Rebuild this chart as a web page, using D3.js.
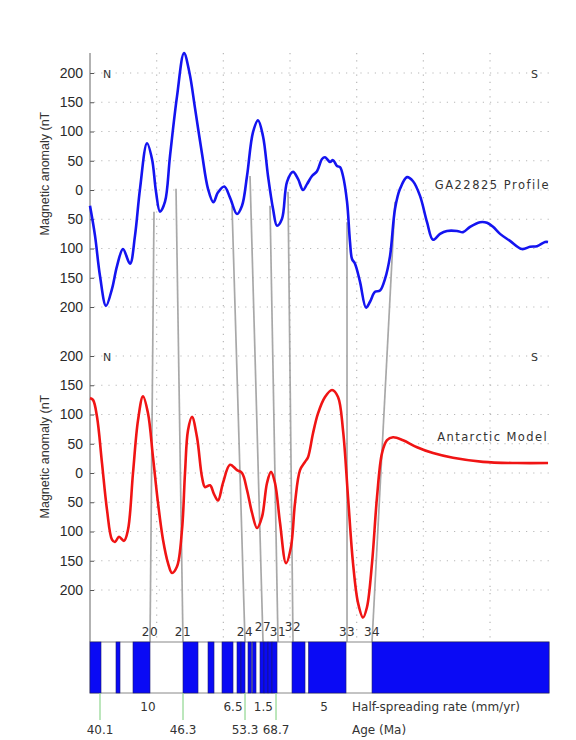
<!DOCTYPE html>
<html>
<head>
<meta charset="utf-8">
<script src="https://cdn.jsdelivr.net/npm/d3@7"></script>
<style>
body { margin: 0; background: #fff; }
svg { display: block; }
</style>
</head>
<body>
<svg id="chart" width="576" height="740"></svg>
<script>
// distance along track (km) and anomaly (nT)
var profileKm = [0, 7.5, 15, 24, 33, 40.5, 49.5, 60, 67.5, 75, 85.5, 93, 99, 105, 112.5, 120, 130.5, 141, 149.25, 157.5,
  168, 177, 185, 192, 201.5, 210, 220.5, 228, 235.5, 244.5, 252, 259.5, 267, 274.5, 280.5, 288, 295.5, 304.5, 312, 319.5,
  325.5, 333, 340.5, 348, 352.5, 360, 364.5, 370.5, 375, 379.5, 385.5, 390, 393, 397.5, 405, 414, 420, 427.5, 435, 442.5,
  450, 457.5, 465, 475.5, 484.5, 495, 505.5, 514.5, 525, 535.5, 550.5, 559.5, 570, 585, 595.5, 604.5, 615, 630, 648, 660,
  670.5, 682.5, 687];
var profileNT = [-27, -78, -147, -198, -169, -130, -101, -126, -78, 2, 80, 53, -3, -37, -20, 58, 160, 234, 200, 140,
  62, 2, -21, -4, 6, -13, -41, -27, 24, 99, 119, 92, 24, -32, -61, -49, 14, 31, 19, 0,
  10, 24, 32, 53, 56, 48, 51, 41, 39, 24, -20, -89, -118, -126, -157, -201, -191, -174, -172, -152,
  -113, -32, 2, 22, 15, -10, -55, -85, -75, -70, -70, -72, -63, -55, -56, -63, -75, -87, -101, -97,
  -96, -89, -89];

var modelKm = [0, 4.5, 10.5, 18, 25.5, 33, 37.5, 43.5, 51, 57, 64.5, 72, 79.5, 87, 94.5, 102, 109.5, 117, 123, 130.5,
  138, 142.5, 147, 153, 160.5, 168, 172.5, 180, 186, 192, 199.5, 210, 220.5, 228, 235.5, 243, 250.5, 258, 265.5, 271.5,
  277.5, 285, 294, 301.5, 307.5, 315, 322.5, 327, 334.5, 342, 352.5, 363, 372, 379.5, 387, 394.5, 402, 409.5, 415.5, 423,
  430.5, 438, 445.5, 454.5, 469.5, 490.5, 514.5, 544.5, 589.5, 640.5, 687];
var modelNT = [128, 125, 96, 17, -63, -114, -118, -109, -116, -97, 0, 90, 131, 102, 27, -51, -114, -154, -171, -160,
  -97, 0, 73, 96, 61, -7, -24, -21, -36, -47, -17, 14, 5, 0, -29, -68, -94, -75, -17, 2,
  -17, -85, -154, -126, -51, 5, 19, 27, 68, 102, 130, 142, 130, 73, -41, -154, -222, -247, -229, -154,
  -41, 34, 56, 61, 56, 44, 34, 26, 19, 17, 17];

// normal polarity blocks (km)
var blockStart = [0, 39, 64.5, 139.5, 177, 198, 220.5, 226.5, 237, 243.75, 255, 261, 267, 273, 303, 327.75, 423];
var blockEnd   = [16.5, 45, 90, 162, 186, 214.5, 226.5, 232.5, 242.25, 249, 261, 267, 273, 280.5, 322.5, 384, 688.5];

// magnetic anomaly picks: start on profile, end on block model
var anomalyLabels = ["20", "21", "24", "27", "31", "32", "33", "34"];
var pickKm  = [96, 129, 213, 240, 270, 297, 385.5, 457.5];
var pickNT  = [-37, 2, -27, 24, -27, -3, -55, -20];
var chronKm = [90, 139.5, 232.5, 259.5, 282, 304.5, 385.5, 423];

var rateLabels = ["10", "6.5", "1.5", "5"];
var rateKm = [87, 214.5, 260, 351];
var ageLabels = ["40.1", "46.3", "53.3", "68.7"];
var ageKm = [15, 139.5, 232.5, 279];

var kmTicks = [100, 200, 300, 400, 500, 600];
var nTTicks = [-200, -150, -100, -50, 0, 50, 100, 150, 200];

var svg = d3.select("#chart");
var x = d3.scaleLinear().domain([0, 700]).range([90, 556.7]);
var yTop = d3.scaleLinear().domain([-200, 200]).range([307, 73]);
var yBot = d3.scaleLinear().domain([-200, 200]).range([590, 356]);
var barTop = 642, barBot = 693, plotRight = 550, plotTop = 53;

// dotted grid
var grid = svg.append("g").attr("stroke", "#b8b8b8").attr("stroke-width", 1.2)
  .attr("stroke-dasharray", "1.2,6");
[yTop, yBot].forEach(function(y) {
  grid.selectAll(null).data(nTTicks).enter().append("line")
    .attr("x1", x(0) + 4).attr("x2", plotRight)
    .attr("y1", function(d) { return y(d); }).attr("y2", function(d) { return y(d); });
});
grid.selectAll(null).data(kmTicks).enter().append("line")
  .attr("x1", function(d) { return x(d); }).attr("x2", function(d) { return x(d); })
  .attr("y1", plotTop).attr("y2", barTop);

// correlation lines
svg.append("g").selectAll("line").data(anomalyLabels).enter().append("line")
  .attr("x1", function(d, i) { return x(pickKm[i]); })
  .attr("y1", function(d, i) { return yTop(pickNT[i]); })
  .attr("x2", function(d, i) { return x(chronKm[i]); })
  .attr("y2", barTop)
  .attr("stroke", "#9a9a9a").attr("stroke-width", 1.7).attr("opacity", 0.85);

// axes
[yTop, yBot].forEach(function(y) {
  var ax = svg.append("g").attr("transform", "translate(" + x(0) + ",0)")
    .call(d3.axisLeft(y).tickValues(nTTicks).tickFormat(function(d) { return Math.abs(d); })
      .tickSizeInner(-4).tickSizeOuter(0).tickPadding(7));
  ax.select(".domain").remove();
  ax.selectAll(".tick line").attr("stroke", "#555");
  ax.selectAll("text").attr("font-family", "Liberation Sans, Arial, sans-serif")
    .attr("font-size", 14).attr("fill", "#2a2a2a");
  svg.append("text")
    .attr("transform", "translate(49," + y(28) + ") rotate(-90)")
    .attr("text-anchor", "middle")
    .attr("font-family", "Liberation Sans, Arial, sans-serif").attr("font-size", 12.5).attr("fill", "#333")
    .text("Magnetic anomaly (nT");
  svg.append("text").attr("x", 103).attr("y", y(200) + 4.5)
    .attr("font-family", "DejaVu Sans, sans-serif").attr("font-size", 11).attr("fill", "#333").text("N");
  svg.append("text").attr("x", 531).attr("y", y(200) + 4.5)
    .attr("font-family", "DejaVu Sans, sans-serif").attr("font-size", 11).attr("fill", "#333").text("S");
});
svg.append("line").attr("x1", x(0)).attr("x2", x(0)).attr("y1", plotTop).attr("y2", barTop)
  .attr("stroke", "#666").attr("stroke-width", 1);

// curves
var lineTop = d3.line().x(function(d, i) { return x(profileKm[i]); }).y(function(d) { return yTop(d); })
  .curve(d3.curveCatmullRom.alpha(0.5));
var lineBot = d3.line().x(function(d, i) { return x(modelKm[i]); }).y(function(d) { return yBot(d); })
  .curve(d3.curveCatmullRom.alpha(0.5));
svg.append("path").attr("d", lineTop(profileNT)).attr("fill", "none")
  .attr("stroke", "#1414f0").attr("stroke-width", 2.6).attr("stroke-linejoin", "round");
svg.append("path").attr("d", lineBot(modelNT)).attr("fill", "none")
  .attr("stroke", "#f01414").attr("stroke-width", 2.6).attr("stroke-linejoin", "round");

var labelFont = "DejaVu Sans, Verdana, sans-serif";
svg.append("text").attr("x", plotRight).attr("y", yTop(0) - 1).attr("text-anchor", "end")
  .attr("font-family", labelFont).attr("font-size", 11.5).attr("letter-spacing", 1.5)
  .attr("fill", "#333").text("GA22825  Profile");
svg.append("text").attr("x", plotRight - 2).attr("y", yBot(55)).attr("text-anchor", "end")
  .attr("font-family", labelFont).attr("font-size", 11.5).attr("letter-spacing", 1.4)
  .attr("fill", "#333").text("Antarctic  Model");

// block model
svg.append("rect").attr("x", x(0)).attr("y", barTop).attr("width", x(688.5) - x(0)).attr("height", barBot - barTop)
  .attr("fill", "#fff").attr("stroke", "#888");
svg.append("g").selectAll("rect").data(blockStart).enter().append("rect")
  .attr("x", function(d) { return x(d); })
  .attr("width", function(d, i) { return x(blockEnd[i]) - x(d); })
  .attr("y", barTop).attr("height", barBot - barTop)
  .attr("fill", "#0a0af5").attr("stroke", "#1a1a70").attr("stroke-width", 0.6);

var raise = { "27": 5, "32": 5 };
svg.append("g").selectAll("text").data(anomalyLabels).enter().append("text")
  .attr("x", function(d, i) { return x(chronKm[i]); })
  .attr("y", function(d) { return 636 - (raise[d] || 0); })
  .attr("text-anchor", "middle").attr("font-family", labelFont).attr("font-size", 12)
  .attr("letter-spacing", 0.5).attr("fill", "#333").text(function(d) { return d; });

svg.append("g").selectAll("line").data(ageKm).enter().append("line")
  .attr("x1", function(d) { return x(d); }).attr("x2", function(d) { return x(d); })
  .attr("y1", barBot).attr("y2", 720).attr("stroke", "#8fd68f").attr("stroke-width", 1.2);
svg.append("g").selectAll("text").data(ageLabels).enter().append("text")
  .attr("x", function(d, i) { return x(ageKm[i]); }).attr("y", 734)
  .attr("text-anchor", "middle").attr("font-family", labelFont).attr("font-size", 12)
  .attr("fill", "#333").text(function(d) { return d; });
svg.append("g").selectAll("text").data(rateLabels).enter().append("text")
  .attr("x", function(d, i) { return x(rateKm[i]); }).attr("y", 711)
  .attr("text-anchor", "middle").attr("font-family", labelFont).attr("font-size", 12)
  .attr("fill", "#333").text(function(d) { return d; });
svg.append("text").attr("x", 352).attr("y", 711).attr("font-family", labelFont).attr("font-size", 12)
  .attr("fill", "#333").text("Half-spreading rate (mm/yr)");
svg.append("text").attr("x", 352).attr("y", 734).attr("font-family", labelFont).attr("font-size", 12)
  .attr("fill", "#333").text("Age (Ma)");
</script>
</body>
</html>
